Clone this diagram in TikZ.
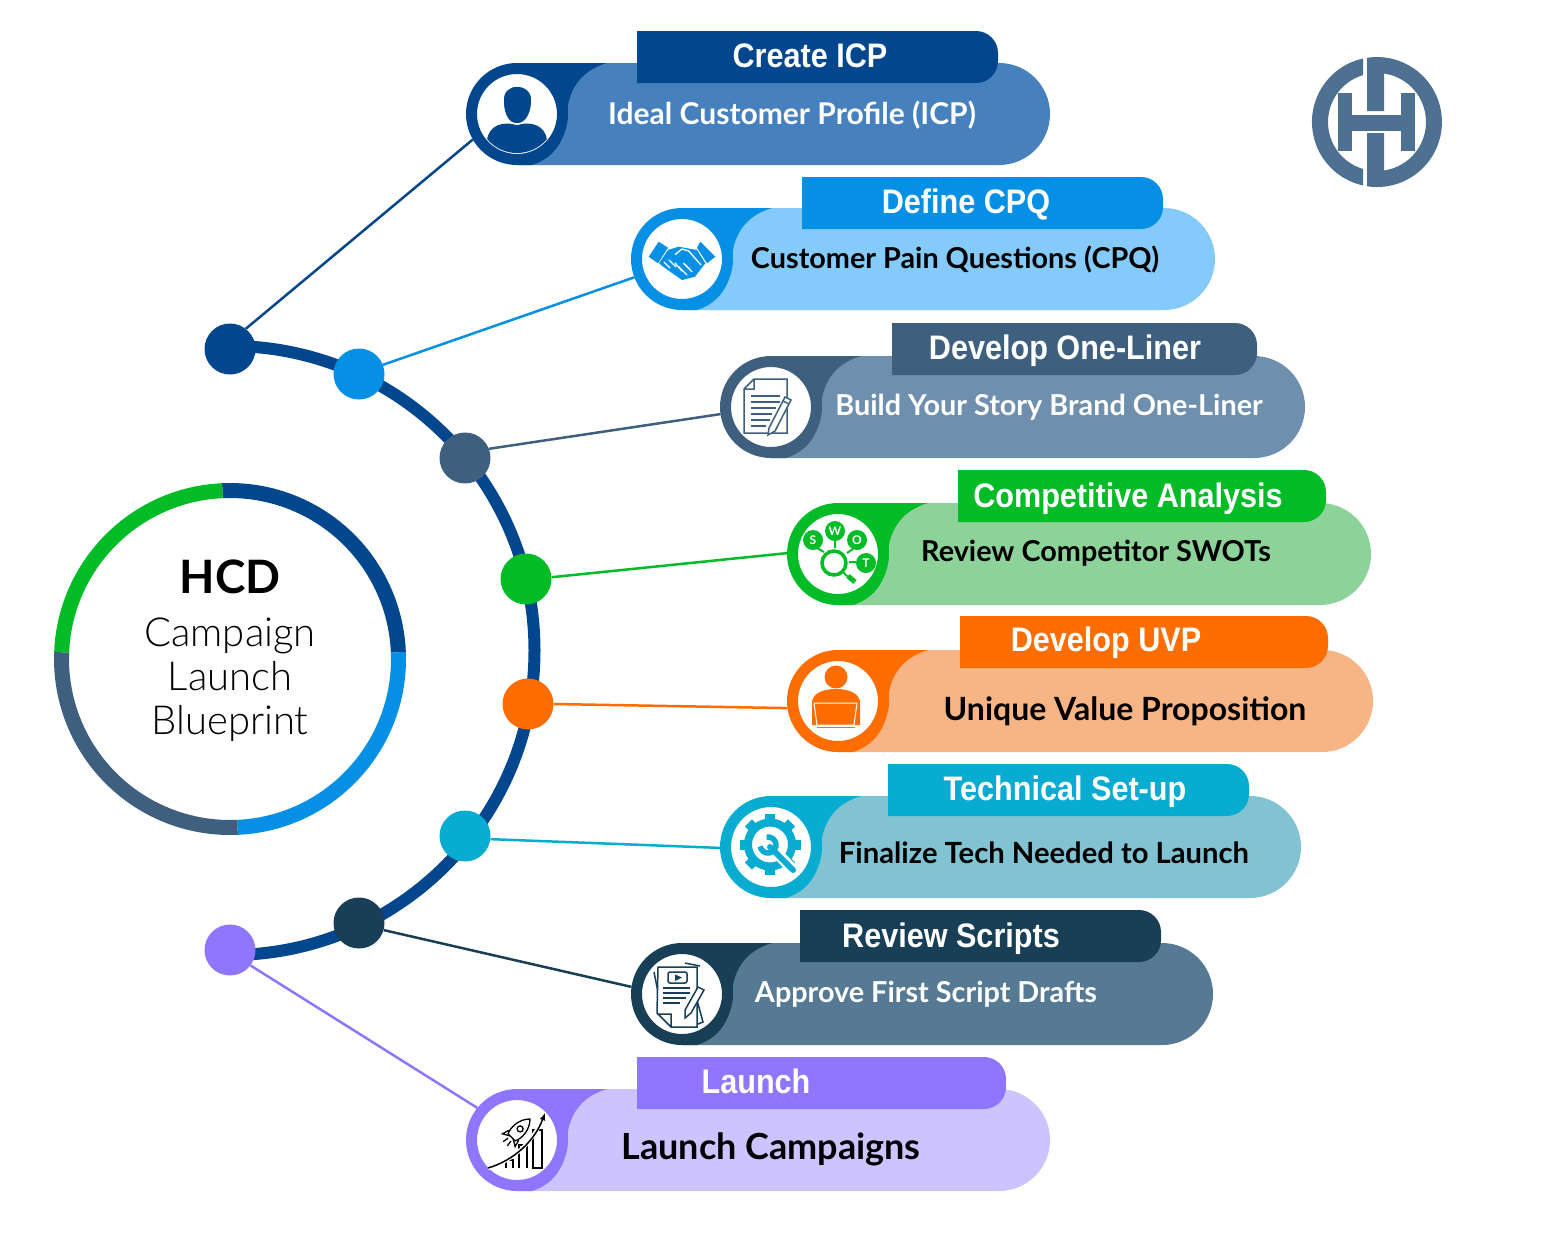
\documentclass[tikz,border=0pt]{standalone}
\usepackage{fontspec}
\setmainfont{Lato}
\newfontfamily\headfont[FakeStretch=0.9]{Liberation Sans}
\newfontfamily\hublight{Lato Light}
\definecolor{navy}{HTML}{02478E}
\definecolor{navylt}{HTML}{4680BD}
\definecolor{sky}{HTML}{0590E6}
\definecolor{skylt}{HTML}{84CBFB}
\definecolor{slate}{HTML}{3F5F7F}
\definecolor{slatelt}{HTML}{6E8FAE}
\definecolor{leaf}{HTML}{01BB27}
\definecolor{leaflt}{HTML}{8DD399}
\definecolor{amber}{HTML}{FF6D00}
\definecolor{amberlt}{HTML}{F7B585}
\definecolor{teal}{HTML}{09ACD1}
\definecolor{teallt}{HTML}{82C3D3}
\definecolor{ink}{HTML}{193F57}
\definecolor{inklt}{HTML}{567A93}
\definecolor{violet}{HTML}{8F76FF}
\definecolor{violetlt}{HTML}{CDC4FF}
\definecolor{logoblue}{HTML}{4E7191}
\tikzset{
  ring/.style={circle, fill=white, line width=11pt, minimum size=91pt, inner sep=0pt},
  dot/.style={circle, minimum size=51pt, inner sep=0pt},
  link/.style={line width=2.5pt},
  headtxt/.style={text=white, text height=24pt, text depth=0pt, inner sep=0pt, font=\headfont\bfseries\fontsize{34}{36}\selectfont},
  subtxt/.style={text height=20pt, text depth=0pt, inner sep=0pt, font=\bfseries\fontsize{#1}{32}\selectfont},
  subtxt/.default=28.8,
  hubtxt/.style={anchor=base, font=\hublight\fontsize{40}{42}\selectfont},
  swotletter/.style={text=white, inner sep=0pt, font=\bfseries\fontsize{12}{12}\selectfont},
}
% name, cx, cy, right end, tab left, tab right, tab top, dark, light
\newcommand{\stepbar}[9]{
\fill[#9] (#2,#3-51) -- (#4-51,#3-51) arc[start angle=90, end angle=-90, radius=51pt] -- (#2,#3+51) -- cycle;
\fill[#8] (#2,#3-51) -- (#2+90,#3-51) .. controls (#2+62,#3-43) and (#2+51,#3-22) .. (#2+50,#3) .. controls (#2+50,#3+22) and (#2+40,#3+43) .. (#2+15,#3+51) -- (#2,#3+51) -- cycle;
\fill[#8] (#5,#7) [rounded corners=22pt] -- (#6,#7) -- (#6,#7+52) [sharp corners] -- (#5,#7+52) -- cycle;
\node[ring, draw=#8] (#1) at (#2,#3) {};
}
\begin{document}
\begin{tikzpicture}[x=1pt, y=-1pt]
\useasboundingbox (0,0) rectangle (1568,1254);

\stepbar{icpring}{517}{114}{1050}{637}{998}{31}{navy}{navylt}
\stepbar{cpqring}{682}{259}{1215}{802}{1163}{177}{sky}{skylt}
\stepbar{linerring}{771}{407}{1305}{892}{1257}{323}{slate}{slatelt}
\stepbar{swotring}{838}{554}{1371}{958}{1326}{470}{leaf}{leaflt}
\stepbar{uvpring}{838}{701}{1373}{960}{1328}{616}{amber}{amberlt}
\stepbar{techring}{771}{847}{1301}{888}{1249}{764}{teal}{teallt}
\stepbar{scriptring}{682}{994}{1213}{800}{1161}{910}{ink}{inklt}
\stepbar{launchring}{517}{1140}{1050}{637}{1006}{1057}{violet}{violetlt}

\node[headtxt] (icphead) at (810,55.5) {Create ICP};
\node[headtxt] (cpqhead) at (966,201.5) {Define CPQ};
\node[headtxt] (linerhead) at (1065,347.5) {Develop One-Liner};
\node[headtxt] (swothead) at (1128,495.5) {Competitive Analysis};
\node[headtxt] (uvphead) at (1106,639.5) {Develop UVP};
\node[headtxt] (techhead) at (1065,788.5) {Technical Set-up};
\node[headtxt] (scripthead) at (951,935.5) {Review Scripts};
\node[headtxt] (launchhead) at (756,1081.5) {Launch};

\node[subtxt=30, text=white] (icpsub) at (792,114) {Ideal Customer Profile (ICP)};
\node[subtxt] (cpqsub) at (955,258) {Customer Pain Questions (CPQ)};
\node[subtxt, text=white] (linersub) at (1049,405) {Build Your Story Brand One-Liner};
\node[subtxt] (swotsub) at (1096,551) {Review Competitor SWOTs};
\node[subtxt=32] (uvpsub) at (1125,710) {Unique Value Proposition};
\node[subtxt=29.2] (techsub) at (1044,853) {Finalize Tech Needed to Launch};
\node[subtxt, text=white] (scriptsub) at (926,992) {Approve First Script Drafts};
\node[subtxt=36] (launchsub) at (771,1149) {Launch Campaigns};

\coordinate (arctop) at (230,346);
\draw[navy, line width=12pt] (arctop) arc[start angle=90, end angle=-90, radius=304.5pt];

\node[dot, fill=navy] (icpdot) at (230,349) {};
\node[dot, fill=sky] (cpqdot) at (359,374) {};
\node[dot, fill=slate] (linerdot) at (465,458) {};
\node[dot, fill=leaf] (swotdot) at (526,579) {};
\node[dot, fill=amber] (uvpdot) at (528,704) {};
\node[dot, fill=teal] (techdot) at (465,836) {};
\node[dot, fill=ink] (scriptdot) at (359,923) {};
\node[dot, fill=violet] (launchdot) at (230,950) {};

\draw[link, navy] (icpdot.52) -- (icpring.210);
\draw[link, sky] (cpqdot.21) -- (cpqring.201);
\draw[link, slate] (linerdot.21) -- (linerring.188);
\draw[link, leaf] (swotdot.4) -- (swotring.179);
\draw[link, amber] (uvpdot.0) -- (uvpring.188);
\draw[link, teal] (techdot.-7) -- (techring.181);
\draw[link, ink] (scriptdot.-16) -- (scriptring.172);
\draw[link, violet] (launchdot.-37) -- (launchring.141);

\draw[navy, line width=15pt] (230,659) ++(92.6:168.5pt) arc[start angle=92.6, end angle=2.3, radius=168.5pt];
\draw[sky, line width=15pt] (230,659) ++(2.3:168.5pt) arc[start angle=2.3, end angle=-87.4, radius=168.5pt];
\draw[slate, line width=15pt] (230,659) ++(-87.4:168.5pt) arc[start angle=-87.4, end angle=-182.3, radius=168.5pt];
\draw[leaf, line width=15pt] (230,659) ++(177.7:168.5pt) arc[start angle=177.7, end angle=92.6, radius=168.5pt];
\node[anchor=base, font=\bfseries\fontsize{46}{50}\selectfont] (hubtitle) at (230,593) {HCD};
\node[hubtxt] (hubline1) at (230,646) {Campaign};
\node[hubtxt] (hubline2) at (230,690) {Launch};
\node[hubtxt] (hubline3) at (230,734) {Blueprint};

\fill[logoblue] (1363,58.5) arc[start angle=102.4, end angle=257.6, radius=65pt] -- (1363,169) arc[start angle=253.4, end angle=106.6, radius=49pt] -- cycle;
\fill[logoblue] (1367,57.8) arc[start angle=98.8, end angle=-98.8, radius=65pt] -- (1367,133) -- (1384,133) -- (1384,170.5) arc[start angle=-81.8, end angle=81.8, radius=49pt] -- (1384,111) -- (1367,111) -- cycle;
\fill[logoblue] (1338,93) rectangle (1352,151);
\fill[logoblue] (1401,93) rectangle (1415,151);
\fill[logoblue] (1338,115) rectangle (1415,131);

\begin{scope}
\clip (517,114) circle[radius=39pt];
\fill[navy] (487,160) -- (487,140) .. controls (489,125) and (503,121) .. (517,125) .. controls (531,121) and (545,125) .. (547,140) -- (547,160) -- cycle;
\end{scope}
\fill[navy, draw=white, line width=1.5pt] (517,124) .. controls (506,124) and (503,110) .. (503,100) .. controls (503,91) and (509,86) .. (517,86) .. controls (525,86) and (532,91) .. (532,100) .. controls (532,110) and (528,124) .. (517,124) -- cycle;

\fill[sky] (648.7,256.7) -- (658.7,241.7) -- (668,247.7) -- (658,263.3) -- cycle;
\fill[sky] (715.3,256.7) -- (700.3,241.7) -- (697,247.7) -- (707,263.3) -- cycle;
\fill[sky] (668,250) -- (678.7,246.7) -- (697,250) -- (705.3,263.3) -- (695,276.7) -- (682,280) -- (665,268) -- (659,263.3) -- cycle;
\draw[white, line width=1.3pt, line cap=round] (675.3,254.3) -- (682,249) -- (688.7,251) -- (701,265) (683.7,263.3) -- (692,271.7) (678.7,266.7) -- (687,275) (664,262) -- (670,268) (669,260) -- (676,267) (675,263) -- (682,271);

\draw[slate, line width=1.5pt, fill=white] (754,379) -- (787,379) -- (787,433) -- (744,433) -- (744,389) -- cycle (744,389) -- (754,389) -- (754,379);
\draw[slate, line width=1.5pt] (751,396) -- (780,396) (751,402) -- (780,402) (751,408) -- (776,408) (751,414) -- (772,414) (751,420) -- (770,420) (751,426) -- (766,426);
\draw[slate, line width=1.5pt, fill=white] (768,435) -- (769,428) -- (785,397) -- (791,400) -- (775,431) -- cycle (783,401) -- (789,404);

\fill[leaf] (813,540) circle[radius=10pt] (835,531) circle[radius=10pt] (857,540) circle[radius=10pt] (866,563) circle[radius=10pt];
\node[swotletter] (swots) at (813,540) {S};
\node[swotletter] (swotw) at (835,531) {W};
\node[swotletter] (swoto) at (857,540) {O};
\node[swotletter] (swott) at (866,563) {T};
\draw[leaf, line width=3.5pt] (834,563) circle[radius=12pt];
\draw[leaf, line width=2pt] (817,548) -- (824,552) (835,541) -- (835,548) (853,549) -- (847,553) (856,562) -- (849,562) (843,572) -- (848,577);
\draw[leaf, line width=5pt] (848,576) -- (855,582);

\fill[amber] (836,677) circle[radius=11.5pt];
\fill[amber] (812,725) -- (812,703) .. controls (812,694) and (822,689) .. (836,689) .. controls (850,689) and (860,694) .. (860,703) -- (860,725) -- cycle;
\draw[white, line width=1pt, fill=amber] (817,725) -- (814,703) -- (857,703) -- (854,725) -- cycle;
\draw[amber, line width=1.5pt] (817,727.5) -- (855,727.5);

\foreach \a in {0,45,...,315} \fill[teal, rotate around={\a:(770,844.5)}] (765,814) rectangle (775,824);
\draw[teal, line width=8pt] (770,844.5) circle[radius=22pt];
\draw[white, line width=11pt] (774,850) -- (796,873);
\draw[teal, line width=6pt, line cap=round] (770,847) -- (793,870);
\draw[teal, line width=5.5pt] (766.6,837.1) arc[start angle=100, end angle=-170, radius=8pt];

\draw[ink, line width=1.5pt] (654,972) -- (660,1002) (700,966) -- (685,963) (697,1000) -- (703,1022) -- (698,1024);
\draw[ink, line width=1.5pt, fill=white] (658,967) -- (697,967) -- (697,1027) -- (671,1027) -- (657,1013) -- cycle (671,1027) -- (671,1014) -- (657,1014);
\draw[ink, line width=1.5pt, rounded corners=2pt] (668,972) rectangle (687,983);
\fill[ink] (675,974.5) -- (682,977.5) -- (675,981) -- cycle;
\draw[ink, line width=1.5pt] (663,988) -- (690,988) (663,993) -- (690,993) (663,998) -- (686,998) (663,1003) -- (680,1003);
\draw[ink, line width=1.5pt, fill=white] (685,1018) -- (685,1010) -- (698,987) -- (704,990) -- (691,1013) -- cycle;

\draw[black, line width=1.5pt] (506,1168) -- (506,1160) -- (513,1160) -- (513,1168) (519,1168) -- (519,1145) -- (527,1145) -- (527,1168) (533,1168) -- (533,1130) -- (542,1130) -- (542,1168) -- cycle;
\draw[white, line width=4pt] (488,1168) .. controls (515,1160) and (535,1140) .. (545,1113);
\draw[black, line width=1.5pt, ->, >=latex] (488,1168) .. controls (515,1160) and (535,1140) .. (545,1113);
\begin{scope}[shift={(518,1131)}, rotate=45]
\draw[black, line width=1.3pt] (17,0) .. controls (9,-8) and (-3,-8) .. (-9,-5) -- (-9,5) .. controls (-3,8) and (9,8) .. (17,0) -- cycle;
\draw[black, line width=1.3pt] (3,0) circle[radius=3pt];
\draw[black, line width=1.3pt] (-6,-7) -- (-13,-9) -- (-9,-2) (-6,7) -- (-13,9) -- (-9,2) (-12,-2) -- (-18,-3) (-12,2) -- (-18,3);
\end{scope}
\end{tikzpicture}
\end{document}
